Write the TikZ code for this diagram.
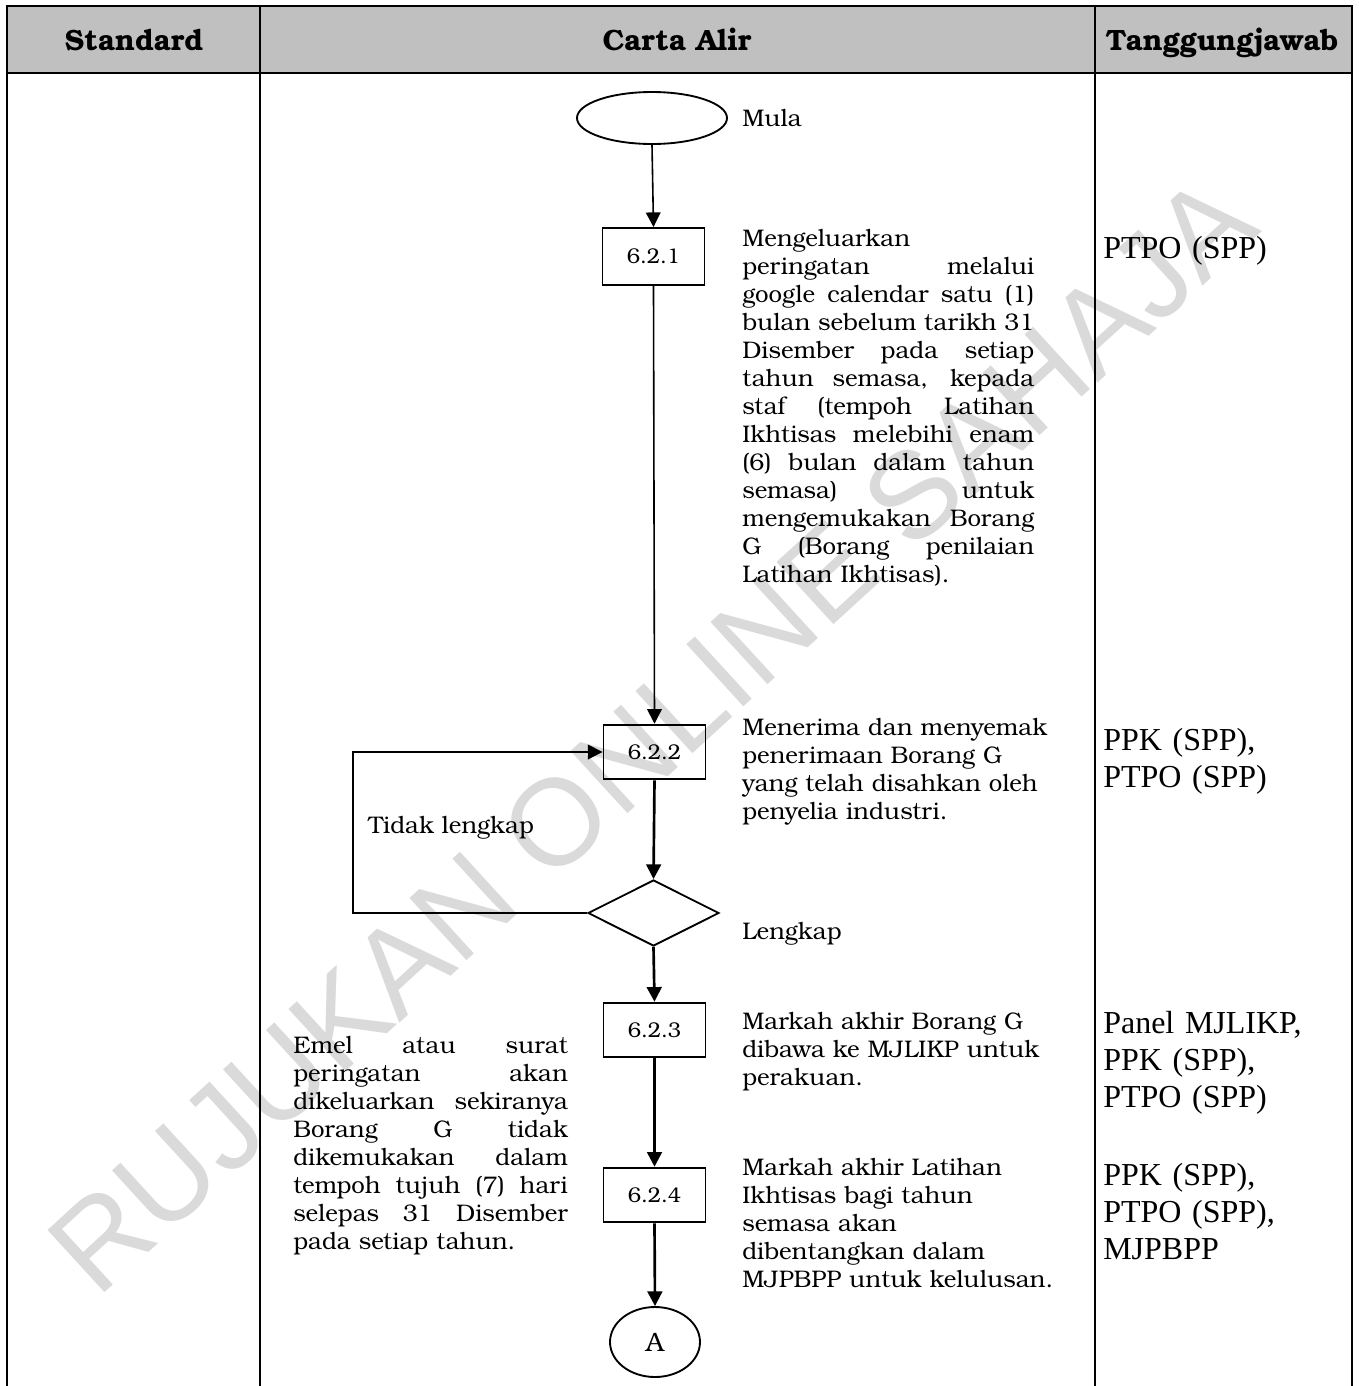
\documentclass[tikz,border=0pt]{standalone}
\usepackage{fontspec}
\usetikzlibrary{arrows.meta,shapes.geometric}
\newfontfamily\bk{texgyrebonum}[Extension=.otf,UprightFont=*-regular,BoldFont=*-bold]
\newfontfamily\tms{Liberation Serif}
\newfontfamily\wmf{Liberation Sans}
\definecolor{hdr}{HTML}{C0C0C0}
\definecolor{wmgray}{HTML}{DADADA}
\newcommand\jl[2]{\leavevmode\hbox to #1{\spaceskip=\fontdimen2\font plus 1fil\relax\xspaceskip=\spaceskip #2}}
\begin{document}
\begin{tikzpicture}[x=0.75pt,y=-0.75pt,
  tbl/.style={line width=2.2pt},
  shp/.style={draw,line width=1.4pt,inner sep=0pt},
  stepbox/.style={shp,minimum width=76.5pt,minimum height=41pt,font=\bk\fontsize{16}{19}\selectfont},
  body/.style={inner sep=0pt,font=\bk\fontsize{18}{21}\selectfont,align=left},
  resp/.style={inner sep=0pt,font=\tms\fontsize{24}{27.75}\selectfont,align=left,text width=180pt},
  hd/.style={inner sep=0pt,font=\bk\bfseries\fontsize{22}{26}\selectfont},
  flow/.style={-{Triangle[length=11pt,width=11pt]},line width=1.2pt},
  flowb/.style={flow,line width=2pt},
]
\useasboundingbox (0,0) rectangle (1359,1386);
% watermark
\node[rotate=42.5,text=wmgray,font=\wmf\fontsize{92}{92}\selectfont,inner sep=0pt] (wm) at (652,734) {RUJUKAN ONLINE SAHAJA};
% table
\fill[hdr] (7,6) rectangle (1352,73);
\draw[tbl] (7,1390) -- (7,6) -- (1352,6) -- (1352,1390);
\draw[tbl] (7,73) -- (1352,73);
\draw[tbl] (260,6) -- (260,1390);
\draw[tbl] (1095,6) -- (1095,1390);
\node[hd,anchor=base] (hStd) at (134,50) {Standard};
\node[hd,anchor=base] (hCar) at (677,50) {Carta Alir};
\node[hd,anchor=base] (hTgj) at (1222,50) {Tanggungjawab};
% flow shapes
\node[shp,ellipse,minimum width=112.5pt,minimum height=39pt] (start) at (652,118) {};
\node[stepbox,minimum height=42.75pt] (b1) at (653.5,256.5) {6.2.1};
\node[stepbox] (b2) at (654.5,752) {6.2.2};
\node[shp,diamond,minimum width=98.25pt,minimum height=49.5pt] (dia) at (653.5,913) {};
\node[stepbox] (b3) at (654.5,1030) {6.2.3};
\node[stepbox] (b4) at (654.5,1195) {6.2.4};
\node[shp,ellipse,minimum width=67.5pt,minimum height=52.5pt,font=\bk\fontsize{20}{24}\selectfont] (A) at (655,1342) {A};
% connectors
\draw[flow] (start.south) -- (b1.north);
\draw[flow] (b1.south) -- (b2.north);
\draw[flowb] (b2.south) -- (dia.north);
\draw[flowb] (dia.south) -- (b3.north);
\draw[flowb] (b3.south) -- (b4.north);
\draw[flowb] (b4.south) -- (A.north);
\coordinate (lpA) at (353,913);
\coordinate (lpB) at (353,752);
\draw[flow] (dia.west) -- (lpA) -- (lpB) -- (b2.west);
% labels
\node[body,anchor=base west] (mula) at (742,126) {Mula};
\node[body,anchor=base west] (tl) at (368,833) {Tidak lengkap};
\node[body,anchor=base west] (lk) at (742,939) {Lengkap};
\node[body,text width=219pt,anchor=base west] (t1) at (742,246) {Mengeluarkan\\
\jl{219pt}{peringatan melalui}\\
\jl{219pt}{google calendar satu (1)}\\
\jl{219pt}{bulan sebelum tarikh 31}\\
\jl{219pt}{Disember pada setiap}\\
\jl{219pt}{tahun semasa, kepada}\\
\jl{219pt}{staf (tempoh Latihan}\\
\jl{219pt}{Ikhtisas melebihi enam}\\
\jl{219pt}{(6) bulan dalam tahun}\\
\jl{219pt}{semasa) untuk}\\
\jl{219pt}{mengemukakan Borang}\\
\jl{219pt}{G (Borang penilaian}\\
Latihan Ikhtisas).};
\node[body,text width=240pt,anchor=base west] (t2) at (742,735) {Menerima dan menyemak\\penerimaan Borang G\\yang telah disahkan oleh\\penyelia industri.};
\node[body,text width=240pt,anchor=base west] (t3) at (742,1029) {Markah akhir Borang G\\dibawa ke MJLIKP untuk\\perakuan.};
\node[body,text width=240pt,anchor=base west] (t4) at (742,1175) {Markah akhir Latihan\\Ikhtisas bagi tahun\\semasa akan\\dibentangkan dalam\\MJPBPP untuk kelulusan.};
\node[body,text width=206pt,anchor=base west] (te) at (293,1053) {\jl{206pt}{Emel atau surat}\\
\jl{206pt}{peringatan akan}\\
\jl{206pt}{dikeluarkan sekiranya}\\
\jl{206pt}{Borang G tidak}\\
\jl{206pt}{dikemukakan dalam}\\
\jl{206pt}{tempoh tujuh (7) hari}\\
\jl{206pt}{selepas 31 Disember}\\
pada setiap tahun.};
% responsibilities
\node[resp,anchor=base west] (r1) at (1103,258) {PTPO (SPP)};
\node[resp,anchor=base west] (r2) at (1103,750) {PPK (SPP),\\PTPO (SPP)};
\node[resp,anchor=base west] (r3) at (1103,1033) {Panel MJLIKP,\\PPK (SPP),\\PTPO (SPP)};
\node[resp,anchor=base west] (r4) at (1103,1185) {PPK (SPP),\\PTPO (SPP),\\MJPBPP};
\end{tikzpicture}
\end{document}
